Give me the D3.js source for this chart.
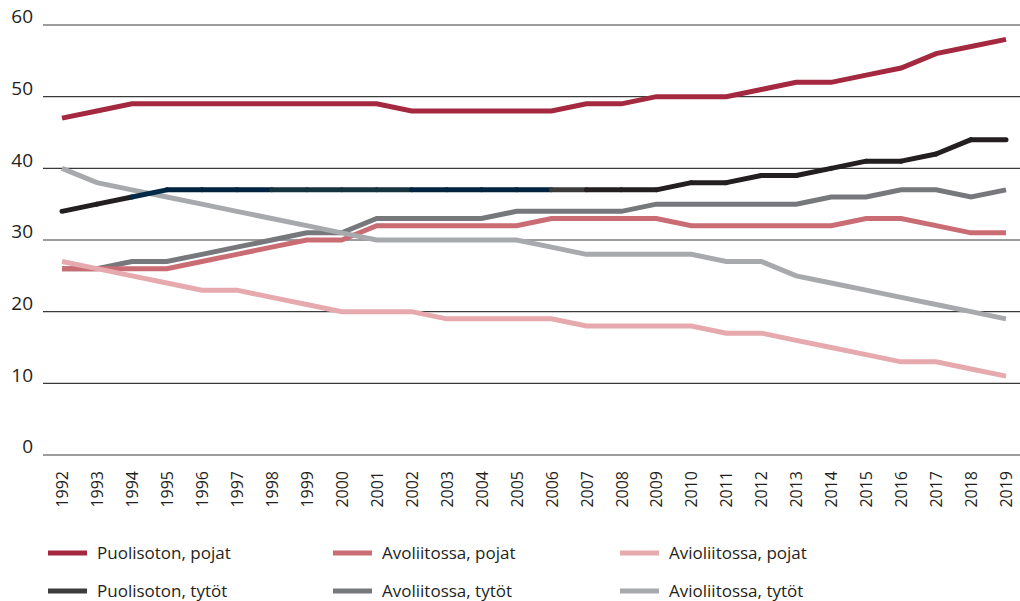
<!DOCTYPE html>
<html>
<head>
<meta charset="utf-8">
<title>Puolisoton, avoliitossa, avioliitossa</title>
<script src="https://cdn.jsdelivr.net/npm/d3@7"></script>
<style>
body { margin: 0; background: #fff; }
text { font-family: "Open Sans", "Noto Sans", sans-serif; fill: #231f20; }
.grid line { stroke: #3a3a3a; stroke-width: 1.2; }
.line { fill: none; stroke-width: 5; stroke-linejoin: miter; }
</style>
</head>
<body>
<script>

var years = d3.range(1992, 2020);
var yTicks = [0, 10, 20, 30, 40, 50, 60];

var puolisotonPojat  = [47,48,49,49,49,49,49,49,49,49,48,48,48,48,48,49,49,50,50,50,51,52,52,53,54,56,57,58];
var avoliitossaPojat = [26,26,26,26,27,28,29,30,30,32,32,32,32,32,33,33,33,33,32,32,32,32,32,33,33,32,31,31];
var avioliitossaPojat= [27,26,25,24,23,23,22,21,20,20,20,19,19,19,19,18,18,18,18,17,17,16,15,14,13,13,12,11];
var puolisotonTytot  = [34,35,36,37,37,37,37,37,37,37,37,37,37,37,37,37,37,37,38,38,39,39,40,41,41,42,44,44];
var avoliitossaTytot = [26,26,27,27,28,29,30,31,31,33,33,33,33,34,34,34,34,35,35,35,35,35,36,36,37,37,36,37];
var avioliitossaTytot= [40,38,37,36,35,34,33,32,31,30,30,30,30,30,29,28,28,28,28,27,27,25,24,23,22,21,20,19];

// colour of each yearly piece of the "Puolisoton, tytöt" line (it changes in the original)
var tytotSegColors = ["#231f20","#231f20","#002a47","#002340","#002340","#002340",
  "#17333f","#17333f","#17333f","#17333f","#002340","#002340","#002340","#002340",
  "#3c3c3c","#231f20","#231f20","#231f20","#231f20","#231f20","#231f20","#231f20",
  "#231f20","#231f20","#231f20","#231f20","#231f20"];

var series = [
  {name: "Puolisoton, pojat",    values: puolisotonPojat,   color: "#a4283f"},
  {name: "Avoliitossa, pojat",   values: avoliitossaPojat,  color: "#c96c74"},
  {name: "Avioliitossa, pojat",  values: avioliitossaPojat, color: "#e6a9ae"},
  {name: "Puolisoton, tytöt",    values: puolisotonTytot,   color: "#3c3c3c"},
  {name: "Avoliitossa, tytöt",   values: avoliitossaTytot,  color: "#77787b"},
  {name: "Avioliitossa, tytöt",  values: avioliitossaTytot, color: "#a7a9ac"}
];

var width = 1020, height = 601;

var x = d3.scaleLinear().domain([1992, 2019]).range([62, 1006]);
var y = d3.scaleLinear().domain([0, 60]).range([455, 25]);

var svg = d3.select("body").append("svg")
    .attr("width", width)
    .attr("height", height);

// grid lines + y labels
var grid = svg.append("g").attr("class", "grid");
grid.selectAll("line")
    .data(yTicks)
  .enter().append("line")
    .attr("x1", 43)
    .attr("x2", width)
    .attr("y1", function(d) { return y(d); })
    .attr("y2", function(d) { return y(d); });

svg.append("g")
    .attr("transform", "translate(33,0)")
    .call(d3.axisLeft(y).tickValues(yTicks).tickSize(0).tickPadding(0))
    .call(function(g) { g.select(".domain").remove(); })
    .selectAll("text")
    .attr("dy", "-0.12em")
    .style("font-size", "19px")
    .style("font-family", "'Open Sans', sans-serif")
    .attr("fill", "#231f20");

// x axis labels, rotated
svg.append("g")
    .attr("transform", "translate(0,471)")
    .call(d3.axisBottom(x).tickValues(years).tickFormat(d3.format("d")).tickSize(0))
    .call(function(g) { g.select(".domain").remove(); })
    .selectAll("text")
    .attr("transform", "rotate(-90)")
    .attr("x", 0)
    .attr("y", 0)
    .attr("dy", "0.35em")
    .style("text-anchor", "end")
    .style("font-size", "16px")
    .style("font-family", "'Open Sans', sans-serif")
    .attr("fill", "#231f20");

var line = d3.line()
    .x(function(d, i) { return x(years[i]); })
    .y(function(d) { return y(d); });

// drawing order
var order = [0, 4, 1, 5, 2];
order.forEach(function(k) {
  svg.append("path")
      .attr("class", "line")
      .attr("d", line(series[k].values))
      .attr("stroke", series[k].color);
});

// Puolisoton, tytöt drawn piece by piece
var segs = d3.range(years.length - 1);
svg.append("g").selectAll("line")
    .data(segs)
  .enter().append("line")
    .attr("x1", function(i) { return x(years[i]); })
    .attr("x2", function(i) { return x(years[i + 1]); })
    .attr("y1", function(i) { return y(puolisotonTytot[i]); })
    .attr("y2", function(i) { return y(puolisotonTytot[i + 1]); })
    .attr("stroke", function(i) { return tytotSegColors[i]; })
    .attr("stroke-width", 5)
    .attr("stroke-linecap", "round");

// legend
var legendX = [48, 333, 620], legendY = [553, 591];
var legend = svg.append("g");
series.forEach(function(s, i) {
  var lx = legendX[i % 3], ly = legendY[Math.floor(i / 3)];
  legend.append("rect")
      .attr("x", lx)
      .attr("y", ly - 2.5)
      .attr("width", 39)
      .attr("height", 5)
      .attr("fill", s.color);
  legend.append("text")
      .attr("x", lx + 49)
      .attr("y", ly)
      .attr("dy", "0.35em")
      .style("font-size", "17px")
      .text(s.name);
});

</script>
</body>
</html>
